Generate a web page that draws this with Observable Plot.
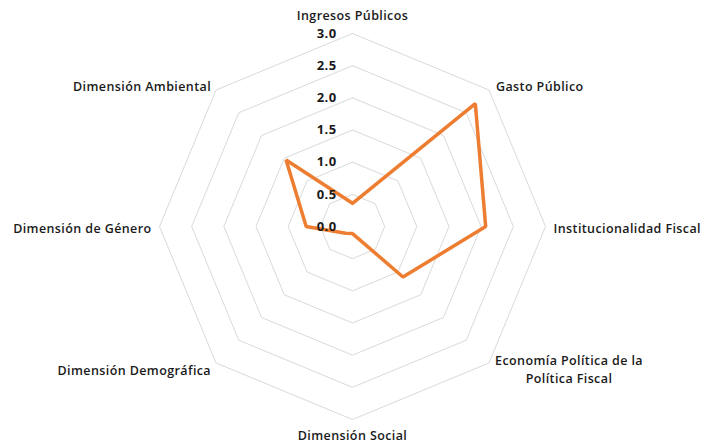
<!DOCTYPE html>
<html>
<head>
<meta charset="utf-8">
<script src="https://cdn.jsdelivr.net/npm/d3@7"></script>
<script src="https://cdn.jsdelivr.net/npm/@observablehq/plot@0.6"></script>
<style>
  html, body { margin: 0; padding: 0; background: #fff; }
  svg { display: block; }
  svg text { letter-spacing: 0.4px; }
</style>
</head>
<body>
<div id="chart"></div>
<script>
const categories = [
  "Ingresos Públicos",
  "Gasto Público",
  "Institucionalidad Fiscal",
  "Economía Política de la Política Fiscal",
  "Dimensión Social",
  "Dimensión Demográfica",
  "Dimensión de Género",
  "Dimensión Ambiental"
];
const values = [0.36, 2.70, 2.07, 1.11, 0.11, 0.15, 0.72, 1.46];
const ringLevels = [0.5, 1.0, 1.5, 2.0, 2.5, 3.0];
const tickLabels = ["0.0", "0.5", "1.0", "1.5", "2.0", "2.5", "3.0"];
const tickValues = [0, 0.5, 1.0, 1.5, 2.0, 2.5, 3.0];

const n = categories.length;
const ang = i => (i * 2 * Math.PI) / n; // clockwise from top
const px = (r, i) => r * Math.sin(ang(i));
const py = (r, i) => r * Math.cos(ang(i));

// rings
const ringPts = [];
for (const L of ringLevels) {
  for (let i = 0; i <= n; i++) ringPts.push({level: L, x: px(L, i % n), y: py(L, i % n)});
}
// data polygon
const dataPts = [];
for (let i = 0; i <= n; i++) dataPts.push({x: px(values[i % n], i % n), y: py(values[i % n], i % n)});

const maxR = 3;
const labelPos = categories.map((c, i) => ({name: c, x: px(maxR, i), y: py(maxR, i)}));

const font = "Open Sans, sans-serif";
const labelStyle = [
  {textAnchor: "middle", dx: 0, dy: -19},
  {textAnchor: "start", dx: 7, dy: -5},
  {textAnchor: "start", dx: 8, dy: 1},
  {textAnchor: "middle", dx: 80, dy: -2, lines: true},
  {textAnchor: "middle", dx: 0, dy: 15},
  {textAnchor: "end", dx: -5, dy: 6},
  {textAnchor: "end", dx: -8, dy: 1},
  {textAnchor: "end", dx: -5, dy: -5}
];

const labelMarks = labelPos.map((d, i) => {
  const s = labelStyle[i];
  const txt = s.lines ? "Economía Política de la\nPolítica Fiscal" : d.name;
  return Plot.text([d], {
    x: "x", y: "y", text: () => txt,
    textAnchor: s.textAnchor, dx: s.dx, dy: s.dy + (s.lines ? 7 : 0),
    fontSize: 12.5, fontWeight: 600, fill: "#1a1a1a", lineHeight: 1.45,
    fontFamily: font
  });
});

const chart = Plot.plot({
  width: 704,
  height: 443,
  margin: 0,
  x: {domain: [-3, 3], range: [159, 545], axis: null},
  y: {domain: [-3, 3], range: [419, 33], axis: null},
  style: {fontFamily: font, background: "#fff"},
  marks: [
    Plot.line(ringPts, {x: "x", y: "y", z: "level", stroke: "#d9d9d9", strokeWidth: 1}),
    Plot.line(dataPts, {x: "x", y: "y", stroke: "#ED7D31", strokeWidth: 3.5, strokeLinejoin: "miter"}),
    Plot.text(tickValues.map((v, k) => ({v, t: tickLabels[k]})), {
      x: () => 0, y: "v", text: "t", textAnchor: "end", dx: -16,
      fontSize: 13, fontWeight: 700, fill: "#1a1a1a", fontFamily: font
    }),
    ...labelMarks
  ]
});
document.getElementById("chart").appendChild(chart);
</script>
</body>
</html>
